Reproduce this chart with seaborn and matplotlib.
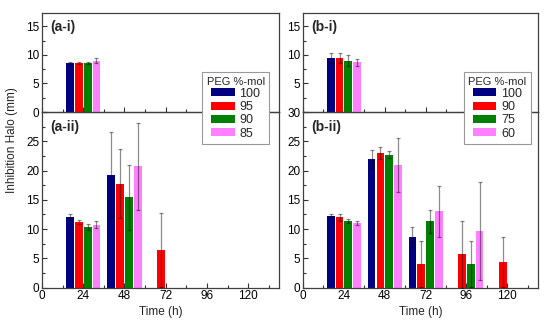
import numpy as np
import pandas as pd
import matplotlib
matplotlib.use('Agg')
import matplotlib.pyplot as plt
from matplotlib.ticker import MultipleLocator
import seaborn as sns

nan = np.nan

# time points (h)
times_i = [24]
times_ii = [24, 48, 72, 96, 120]

# panel (a): PEG %-mol levels
peg_a = ['100', '95', '90', '85']
a_i_mean = [[8.6], [8.6], [8.6], [9.0]]
a_i_err = [[0.2], [0.4], [0.4], [0.5]]
a_ii_mean = [[12.0, 19.3, nan, nan, nan],
             [11.2, 17.7, 6.4, nan, nan],
             [10.4, 15.4, nan, nan, nan],
             [10.7, 20.7, nan, nan, nan]]
a_ii_err = [[0.5, 7.2, nan, nan, nan],
            [0.3, 5.9, 6.3, nan, nan],
            [0.5, 5.6, nan, nan, nan],
            [0.6, 7.5, nan, nan, nan]]

# panel (b): PEG %-mol levels
peg_b = ['100', '90', '75', '60']
b_i_mean = [[9.5], [9.5], [9.0], [8.7]]
b_i_err = [[0.9], [1.6], [1.0], [0.6]]
b_ii_mean = [[12.3, 22.0, 8.7, nan, nan],
             [12.0, 23.0, 4.0, 5.7, 4.4],
             [11.4, 22.7, 11.3, 4.0, nan],
             [11.0, 21.0, 13.0, 9.7, nan]]
b_ii_err = [[0.3, 1.5, 1.7, nan, nan],
            [0.6, 1.0, 3.9, 5.7, 4.3],
            [0.3, 0.6, 2.0, 3.9, nan],
            [0.4, 4.6, 4.4, 8.4, nan]]

colors = ['#000080', '#ff0000', '#008000', '#ff80ff']


def make_df(times, levels, means, errs):
    rows = []
    for lvl, m, e in zip(levels, means, errs):
        for t, v, s in zip(times, m, e):
            if not np.isnan(v):
                rows.append({'time': t, 'peg': lvl, 'halo': v, 'err': s})
    return pd.DataFrame(rows)


def draw_panel(ax, df, levels, show_legend):
    spacing = np.min(np.diff(np.unique(df['time']))) if df['time'].nunique() > 1 else 1
    sns.barplot(data=df, x='time', y='halo', hue='peg', hue_order=levels,
                palette=colors, saturation=1, native_scale=True,
                width=20.5 / spacing, gap=0.12, linewidth=0, errorbar=None,
                legend=show_legend, ax=ax)
    # error bars placed on the bars seaborn drew
    for p in ax.patches:
        h = p.get_height()
        if np.isnan(h) or p.get_width() == 0:
            continue
        cx = p.get_x() + p.get_width() / 2
        cand = df[np.isclose(df['halo'], h)]
        if cand.empty:
            continue
        row = cand.iloc[np.argmin(np.abs(cand['time'] - cx))]
        ax.errorbar(cx, h, yerr=row['err'], fmt='none', ecolor='black',
                    alpha=0.45, elinewidth=0.9, capsize=1.6, capthick=0.9, zorder=5)


sns.set_style('ticks')
plt.rcParams['font.family'] = ['Liberation Sans', 'DejaVu Sans']

fig = plt.figure(figsize=(5.5, 3.31), dpi=100)

cols = [(0.0764, 0.431), (0.551, 0.427)]
panels = [
    ('a', peg_a, a_i_mean, a_i_err, a_ii_mean, a_ii_err, (0.958, 0.40)),
    ('b', peg_b, b_i_mean, b_i_err, b_ii_mean, b_ii_err, (0.970, 0.40)),
]

for (left, width), (tag, levels, im, ie, iim, iie, leg_pos) in zip(cols, panels):
    ax_lo = fig.add_axes([left, 0.1314, width, 0.5302])
    ax_hi = fig.add_axes([left, 0.6616, width, 0.3004])
    ax_hi.set_zorder(3)
    ax_hi.patch.set_alpha(0)

    draw_panel(ax_hi, make_df(times_i, levels, im, ie), levels, True)
    draw_panel(ax_lo, make_df(times_ii, levels, iim, iie), levels, False)

    for ax in (ax_hi, ax_lo):
        ax.set_xlim(0, 138)
        ax.xaxis.set_major_locator(MultipleLocator(24))
        ax.xaxis.set_minor_locator(MultipleLocator(12))
        ax.yaxis.set_minor_locator(MultipleLocator(2.5))
        ax.tick_params(which='both', direction='in', colors='#333333',
                       labelsize=8.5, width=0.8, pad=2)
        ax.tick_params(which='major', length=3.5)
        ax.tick_params(which='minor', length=2)
        for s in ax.spines.values():
            s.set_visible(True)
            s.set_color('#404040')
            s.set_linewidth(0.9)
        ax.set_ylabel('')
        ax.set_xlabel('')
        ax.tick_params(labelcolor='black')

    ax_hi.set_ylim(0, 17.4)
    ax_hi.set_yticks([0, 5, 10, 15])
    ax_hi.set_xticklabels([])
    ax_lo.set_ylim(0, 30)
    ax_lo.set_yticks([0, 5, 10, 15, 20, 25, 30])
    ax_lo.set_xticks([0, 24, 48, 72, 96, 120])
    ax_lo.set_xticklabels(['0', '24', '48', '72', '96', '120'])
    if tag == 'a':
        ax_lo.set_yticklabels(['0', '5', '10', '15', '20', '25', ''])
    else:
        ax_hi.set_yticklabels(['', '5', '10', '15'])
    ax_lo.set_xlabel('Time (h)', fontsize=8.5, labelpad=3)

    ax_hi.text(0.035, 0.93, f'({tag}-i)', transform=ax_hi.transAxes,
               fontsize=10, fontweight='bold', va='top', ha='left')
    ax_lo.text(0.035, 0.955, f'({tag}-ii)', transform=ax_lo.transAxes,
               fontsize=10, fontweight='bold', va='top', ha='left')

    sns.move_legend(ax_hi, loc='upper right', bbox_to_anchor=leg_pos,
                    title='PEG %-mol', frameon=True, fancybox=False,
                    fontsize=9, title_fontsize=8, handlelength=1.9,
                    handleheight=0.6, labelspacing=0.1, handletextpad=0.4,
                    borderpad=0.35, borderaxespad=0, edgecolor='#999999',
                    framealpha=1)
    ax_hi.get_legend().get_frame().set_linewidth(0.8)

fig.text(0.022, 0.577, 'Inhibition Halo (mm)', rotation=90, fontsize=8.5,
         ha='center', va='center')

fig.savefig('out.png', dpi=100)
